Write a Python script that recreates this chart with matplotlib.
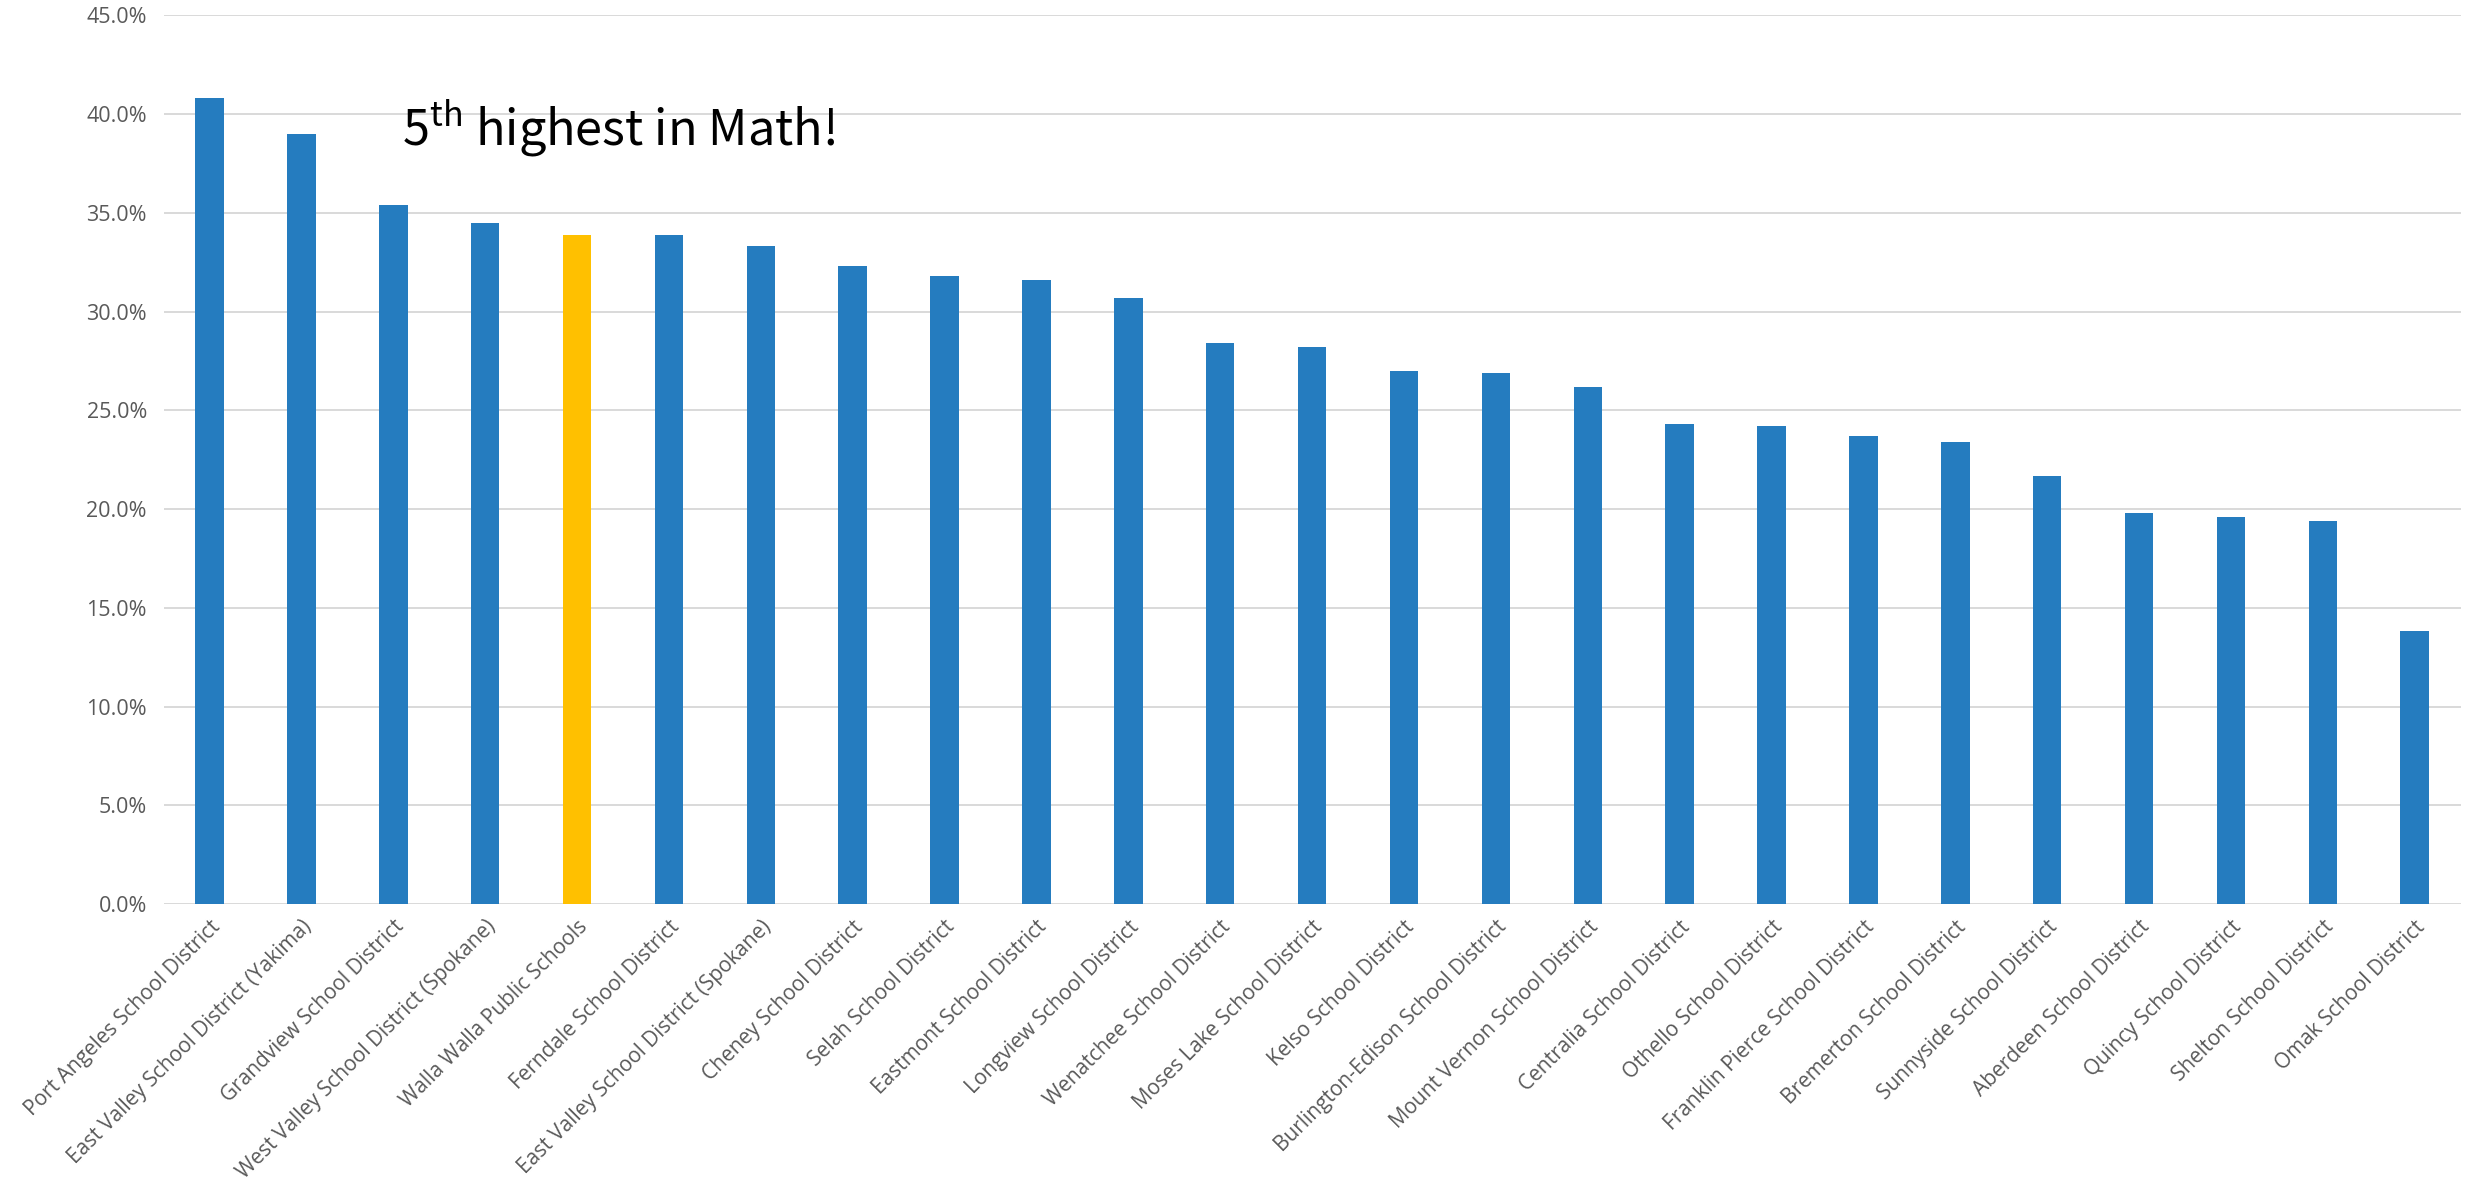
import numpy as np
import matplotlib
matplotlib.use('Agg')
import matplotlib.pyplot as plt
from matplotlib.ticker import PercentFormatter

# District names and share (percent)
districts = [
    'Port Angeles School District', 'East Valley School District (Yakima)',
    'Grandview School District', 'West Valley School District (Spokane)',
    'Walla Walla Public Schools', 'Ferndale School District',
    'East Valley School District (Spokane)', 'Cheney School District',
    'Selah School District', 'Eastmont School District',
    'Longview School District', 'Wenatchee School District',
    'Moses Lake School District', 'Kelso School District',
    'Burlington-Edison School District', 'Mount Vernon School District',
    'Centralia School District', 'Othello School District',
    'Franklin Pierce School District', 'Bremerton School District',
    'Sunnyside School District', 'Aberdeen School District',
    'Quincy School District', 'Shelton School District', 'Omak School District',
]
values = [40.8, 39.0, 35.4, 34.5, 33.9, 33.9, 33.3, 32.3, 31.8, 31.6,
          30.7, 28.4, 28.2, 27.0, 26.9, 26.2, 24.3, 24.2, 23.7, 23.4,
          21.7, 19.8, 19.6, 19.4, 13.8]
highlight = 'Walla Walla Public Schools'
yticks = [0, 5, 10, 15, 20, 25, 30, 35, 40, 45]

plt.rcParams['font.family'] = ['Open Sans', 'DejaVu Sans']
plt.rcParams['mathtext.fontset'] = 'custom'
plt.rcParams['mathtext.rm'] = 'Noto Sans CJK JP'

blue = '#257CBF'
gold = '#FFC000'
grey_text = '#595959'
grid_col = '#D9D9D9'

fig = plt.figure(figsize=(24.78, 11.91), dpi=100)
ax = fig.add_axes([0.066, 0.241, 0.927, 0.746])

x = np.arange(len(districts))
colors = [gold if d == highlight else blue for d in districts]
ax.bar(x, values, width=0.31, color=colors, zorder=3)

ax.set_xlim(-0.5, len(districts) - 0.5)
ax.set_ylim(0, 45)
ax.set_yticks(yticks)
ax.yaxis.set_major_formatter(PercentFormatter(decimals=1))
ax.grid(axis='y', color=grid_col, linewidth=1.4, zorder=0)
ax.set_axisbelow(True)
for s in ax.spines.values():
    s.set_visible(False)
ax.tick_params(axis='both', length=0, labelsize=15, labelcolor=grey_text)
ax.tick_params(axis='y', pad=12, labelsize=15.5)
ax.tick_params(axis='x', pad=9)

ax.set_xticks(x)
ax.set_xticklabels(districts, rotation=45, ha='right', rotation_mode='anchor')

ax.text(2.09, 38.4, r'5$^{\mathrm{th}}$ highest in Math!', fontsize=35,
        family='Noto Sans CJK JP', va='baseline', ha='left', color='black')

fig.savefig('out.png', dpi=100)
